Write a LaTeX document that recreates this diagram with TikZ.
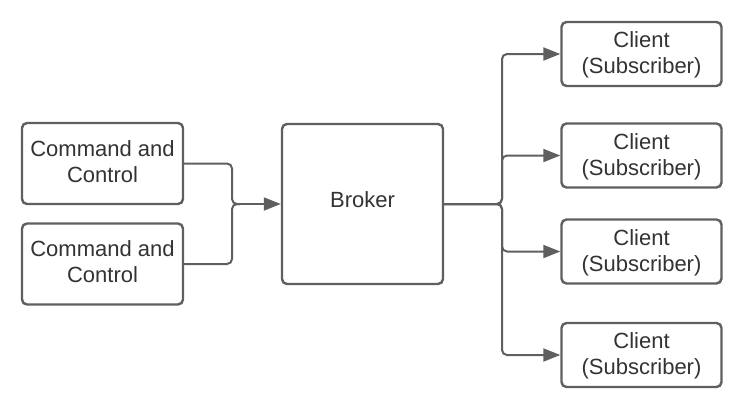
\documentclass[tikz,border=0pt]{standalone}
\usepackage{fontspec}
\setmainfont{Liberation Sans}
\usetikzlibrary{arrows.meta}
\definecolor{linegray}{HTML}{5F5F5F}
\definecolor{textgray}{HTML}{333333}
\newcommand{\dn}[1]{\rule[-#1]{0pt}{#1}}
\newcommand{\up}[1]{\rule{0pt}{#1}}
\tikzset{
  box/.style={draw=linegray, line width=2.4pt, rounded corners=5pt, fill=white,
    align=center, text=textgray, font=\fontsize{22}{26}\selectfont,
    inner sep=0pt},
  conn/.style={draw=linegray, line width=2pt, rounded corners=5pt},
  arr/.style={conn, -{Triangle[length=17pt,width=13pt]}},
}
\begin{document}
\begin{tikzpicture}[x=1pt,y=-1pt]
\useasboundingbox (0,0) rectangle (743,407);
\node[box, minimum width=161pt, minimum height=81pt] (cc1) at (102.5,163.5) {Command and\\Control\dn{4pt}};
\node[box, minimum width=161pt, minimum height=81pt] (cc2) at (102.5,264) {Command and\\Control\dn{4pt}};
\node[box, minimum width=161pt, minimum height=160pt] (broker) at (362.5,204) {Broker\dn{8pt}};
\node[box, minimum width=160pt, minimum height=64pt] (c1) at (641.5,54) {\up{18.5pt}Client\\(Subscriber)};
\node[box, minimum width=160pt, minimum height=64pt] (c2) at (641.5,155.5) {\up{18.5pt}Client\\(Subscriber)};
\node[box, minimum width=160pt, minimum height=64pt] (c3) at (641.5,251.5) {\up{18.5pt}Client\\(Subscriber)};
\node[box, minimum width=160pt, minimum height=64pt] (c4) at (641.5,355) {\up{18.5pt}Client\\(Subscriber)};
\coordinate (jl) at (232,204);
\coordinate (jr) at (502,204);
\draw[conn] (cc1.east) -| (jl) -- ([xshift=8pt]jl);
\draw[conn] (cc2.east) -| (jl) -- ([xshift=8pt]jl);
\draw[arr] ([xshift=6pt]jl) -- (broker.west);
\draw[arr] (broker.east) -- (jr) |- (c1.west);
\draw[arr] (broker.east) -- (jr) |- (c2.west);
\draw[arr] (broker.east) -- (jr) |- (c3.west);
\draw[arr] (broker.east) -- (jr) |- (c4.west);
\end{tikzpicture}
\end{document}
